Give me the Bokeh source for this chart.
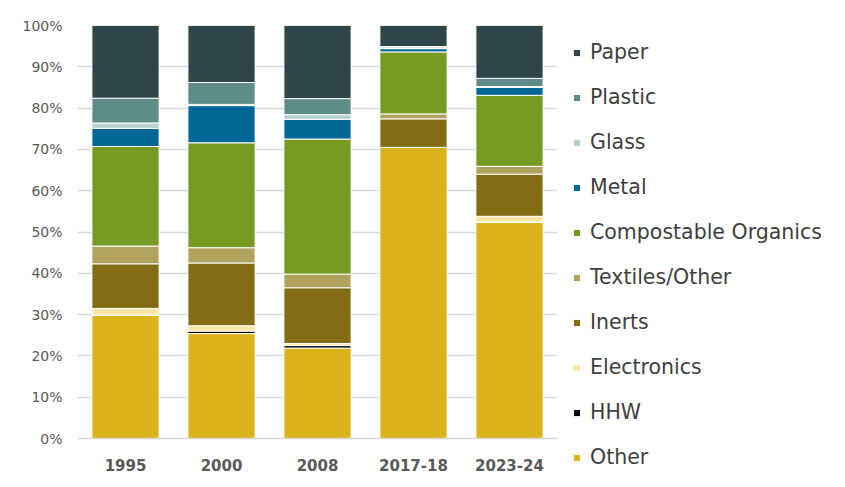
from bokeh.plotting import figure
from bokeh.models import (ColumnDataSource, Legend, LegendItem, FixedTicker,
                          PrintfTickFormatter, Range1d, FactorRange)
from bokeh.embed import file_html
from bokeh.resources import INLINE

years = ["1995", "2000", "2008", "2017-18", "2023-24"]
other = [29.9, 25.4, 21.9, 70.5, 52.3]
hhw = [0.0, 0.6, 0.6, 0.0, 0.1]
electronics = [1.6, 1.3, 0.5, 0.0, 1.4]
inerts = [10.8, 15.2, 13.5, 6.9, 10.2]
textiles = [4.3, 3.7, 3.3, 1.2, 1.9]
organics = [24.1, 25.4, 32.7, 15.0, 17.2]
metal = [4.4, 9.0, 4.8, 0.8, 1.9]
glass = [1.3, 0.3, 1.1, 0.2, 0.2]
plastic = [6.0, 5.3, 3.9, 0.3, 2.0]
paper = [17.6, 13.8, 17.7, 5.1, 12.8]

series_names = ["Other", "HHW", "Electronics", "Inerts", "Textiles/Other",
                "Compostable Organics", "Metal", "Glass", "Plastic", "Paper"]
series_values = [other, hhw, electronics, inerts, textiles, organics,
                 metal, glass, plastic, paper]
colors = ["#dbb41a", "#000000", "#f7e6a6", "#836c13", "#b0a360",
          "#779a21", "#006796", "#b4d0cc", "#5e8d87", "#2f4648"]
y_ticks = [0, 10, 20, 30, 40, 50, 60, 70, 80, 90, 100]

keys = ["s%d" % i for i in range(len(series_names))]
data = {"year": years}
for k, v in zip(keys, series_values):
    data[k] = v
source = ColumnDataSource(data)

p = figure(x_range=FactorRange(*years), y_range=Range1d(0, 100),
           frame_width=480, frame_height=413, output_backend="svg",
           toolbar_location=None,
           min_border_left=77, min_border_right=0, min_border_top=25,
           min_border_bottom=42)
p.outline_line_color = None
p.background_fill_color = "white"

renderers = p.vbar_stack(keys, x="year", width=0.7, source=source,
                         fill_color=colors, line_color="white", line_width=1)

p.yaxis.ticker = FixedTicker(ticks=y_ticks)
p.yaxis.formatter = PrintfTickFormatter(format="%d%%")
p.yaxis.axis_line_color = None
p.yaxis.major_tick_line_color = None
p.yaxis.major_tick_out = 0
p.yaxis.minor_tick_line_color = None
p.yaxis.major_label_standoff = 15
p.yaxis.major_label_text_font = "DejaVu Sans"
p.yaxis.major_label_text_font_size = "14px"
p.yaxis.major_label_text_color = "#595959"

p.xaxis.axis_line_color = "#d9d9d9"
p.xaxis.axis_line_width = 1.5
p.xaxis.major_tick_line_color = None
p.xaxis.major_tick_out = 0
p.xaxis.minor_tick_line_color = None
p.xaxis.major_label_standoff = 20
p.xaxis.major_label_text_font = "DejaVu Sans"
p.xaxis.major_label_text_font_size = "15px"
p.xaxis.major_label_text_font_style = "bold"
p.xaxis.major_label_text_color = "#595959"

p.xgrid.grid_line_color = None
p.ygrid.grid_line_color = "#d9d9d9"
p.ygrid.grid_line_width = 1.5

items = [LegendItem(label=n, renderers=[r])
         for n, r in zip(series_names, renderers)][::-1]
legend = Legend(items=items, location="top_left", orientation="vertical",
                glyph_width=9, glyph_height=9, label_height=22, spacing=21,
                label_standoff=9, padding=4, margin=15,
                label_text_font="DejaVu Sans", label_text_font_size="20.5px",
                label_text_color="#404040", border_line_color=None,
                background_fill_alpha=0)
p.add_layout(legend, "right")

open("out.html", "w").write(file_html(p, INLINE))
